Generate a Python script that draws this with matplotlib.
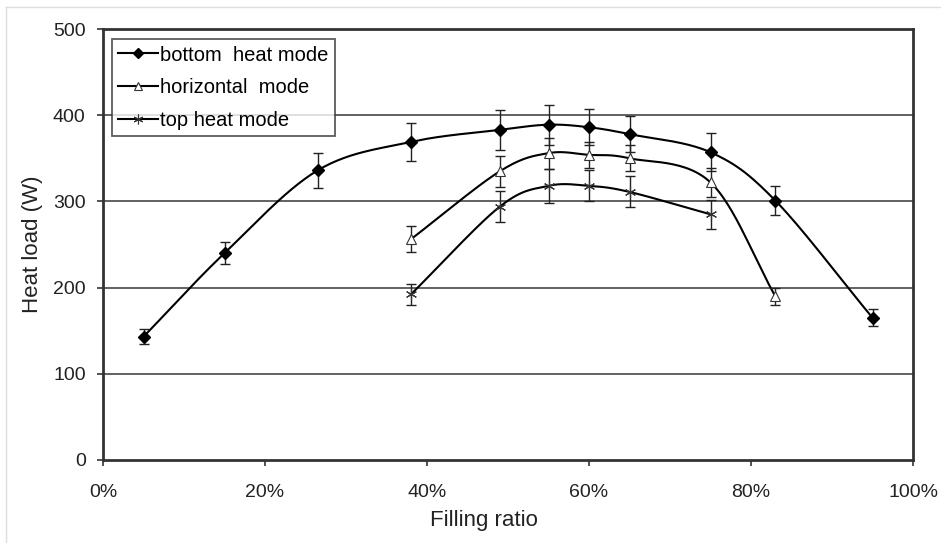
import matplotlib
matplotlib.use("Agg")
import matplotlib.pyplot as plt
import numpy as np
from matplotlib.lines import Line2D

plt.rcParams["font.family"] = ["Liberation Sans", "DejaVu Sans"]

# data (filling ratio in %, heat load in W)
bottom_x = [5, 15, 26.5, 38, 49, 55, 60, 65, 75, 83, 95]
bottom_y = [143, 240, 336, 369, 383, 389, 386, 378, 357, 301, 165]
bottom_err = [9, 13, 20, 22, 23, 23, 21, 21, 22, 17, 10]

horiz_x = [38, 49, 55, 60, 65, 75, 83]
horiz_y = [256, 335, 356, 354, 350, 322, 190]
horiz_err = [15, 18, 18, 15, 15, 17, 10]

top_x = [38, 49, 55, 60, 65, 75]
top_y = [192, 294, 318, 318, 311, 285]
top_err = [12, 18, 20, 18, 18, 17]

labels = ["bottom  heat mode", "horizontal  mode", "top heat mode"]


def smooth(x, y, n=30):
    # Catmull-Rom style smoothing like Excel "smoothed line"
    x = np.asarray(x, float)
    y = np.asarray(y, float)
    px = np.concatenate([[2 * x[0] - x[1]], x, [2 * x[-1] - x[-2]]])
    py = np.concatenate([[2 * y[0] - y[1]], y, [2 * y[-1] - y[-2]]])
    xs, ys = [], []
    t = np.linspace(0, 1, n)
    for i in range(1, len(px) - 2):
        p0, p1, p2, p3 = [np.array([px[j], py[j]]) for j in (i - 1, i, i + 1, i + 2)]
        c1 = p1 + (p2 - p0) / 6
        c2 = p2 - (p3 - p1) / 6
        b = ((1 - t) ** 3)[:, None] * p1 + (3 * (1 - t) ** 2 * t)[:, None] * c1 \
            + (3 * (1 - t) * t ** 2)[:, None] * c2 + (t ** 3)[:, None] * p2
        xs.append(b[:, 0])
        ys.append(b[:, 1])
    return np.concatenate(xs), np.concatenate(ys)


fig = plt.figure(figsize=(9.41, 5.43), dpi=100)
ax = fig.add_axes([103 / 941, 1 - 460 / 543, 810 / 941, 431 / 543])

# light outer frame of the image
fig.add_artist(Line2D([6 / 941, 6 / 941], [0, 1 - 7 / 543], color="#dddddd", lw=1))
fig.add_artist(Line2D([6 / 941, 1], [1 - 7 / 543, 1 - 7 / 543], color="#dddddd", lw=1))

for yv in [100, 200, 300, 400]:
    ax.axhline(yv, color="#555555", lw=1.3, zorder=1)

series = [
    (bottom_x, bottom_y, bottom_err, dict(marker="D", ms=6, mfc="black", mec="black")),
    (horiz_x, horiz_y, horiz_err, dict(marker="^", ms=7, mfc="white", mec="#333333", mew=0.8)),
    (top_x, top_y, top_err, dict(marker=(6, 2, 0), ms=8, mec="#333333", mew=0.8)),
]
handles = []
for (x, y, e, mk), lab in zip(series, labels):
    sx, sy = smooth(x, y)
    ax.plot(sx, sy, color="black", lw=1.5, zorder=3)
    ax.errorbar(x, y, yerr=e, fmt="none", ecolor="#222222", elinewidth=1.0,
                capsize=3.5, capthick=1.0, zorder=4)
    ax.plot(x, y, ls="none", zorder=5, **mk)
    hk = dict(mk)
    hk["ms"] = mk["ms"] - 1
    handles.append(Line2D([], [], color="black", lw=1.5, **hk))

ax.set_xlim(0, 100)
ax.set_ylim(0, 500)
ax.set_xticks(range(0, 101, 20))
ax.set_xticklabels([f"{v}%" for v in range(0, 101, 20)])
ax.set_yticks(range(0, 501, 100))
ax.tick_params(axis="both", direction="out", length=4, width=1.2, labelsize=14,
               color="#333333", labelcolor="#222222")
ax.tick_params(axis="x", pad=13)
ax.tick_params(axis="y", pad=8.5)
for s in ax.spines.values():
    s.set_color("#333333")
    s.set_linewidth(2)

ax.set_xlabel("Filling ratio", fontsize=16, color="#222222")
ax.xaxis.set_label_coords(0.47, -0.115)
ax.set_ylabel("Heat load (W)", fontsize=16, color="#222222")
ax.yaxis.set_label_coords(-0.074, 0.5)

leg = ax.legend(handles, labels, loc="upper left", bbox_to_anchor=(0.006, 0.985),
                fontsize=14.5, frameon=True, fancybox=False, handlelength=2.0,
                handletextpad=0.1, borderpad=0.3, labelspacing=0.68,
                borderaxespad=0.2)
leg.get_frame().set_edgecolor("#333333")
leg.get_frame().set_linewidth(1.3)

fig.savefig("out.png", dpi=100)
